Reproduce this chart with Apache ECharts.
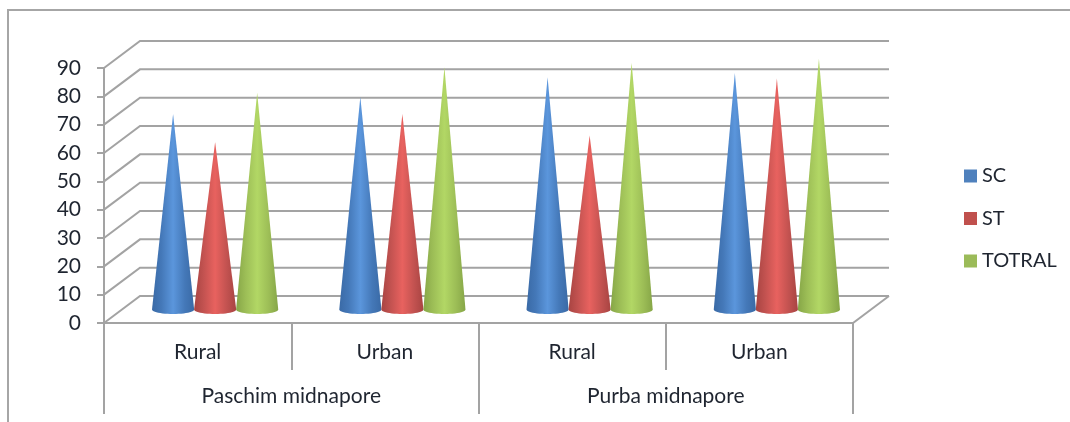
<!DOCTYPE html>
<html><head><meta charset="utf-8">
<script src="https://cdn.jsdelivr.net/npm/echarts@6/dist/echarts.min.js"></script>
<style>html,body{margin:0;padding:0;background:#fff}#c{width:1070px;height:422px}</style>
</head><body><div id="c"></div>
<script>
const categories = ['Rural','Urban','Rural','Urban'];
const groups = ['Paschim midnapore','Purba midnapore'];
const ticks = [0,10,20,30,40,50,60,70,80,90];
const SC = [69,75,82,83.5];
const ST = [59,69,61.5,81.5];
const TOTRAL = [76.5,85.5,87,88.5];

const DX = 36, DY = -27;
const seriesColors = {
  SC: {swatch:'#4f81bd', edge:'#3a6aa6', mid:'#5b96dc', dark:'#4478b8'},
  ST: {swatch:'#c0504d', edge:'#a84442', mid:'#e8625f', dark:'#c25250'},
  TOTRAL: {swatch:'#9bbb59', edge:'#86a647', mid:'#b2d765', dark:'#9cbd56'}
};
const LINE = '#a3a3a3';

function wallItem(params, api){
  const v = api.value(1);
  const cs = params.coordSys;
  const y = api.coord([0, v])[1];
  const x0 = cs.x, x1 = cs.x + cs.width;
  const style = {stroke: LINE, lineWidth: 2, fill: null};
  const children = [{type:'polyline', shape:{points:[[x0,y],[x0+DX,y+DY],[x1+DX,y+DY]]}, style}];
  if (v === 0) {
    children.push({type:'polyline', shape:{points:[[x0,y],[x1,y],[x1+DX,y+DY]]}, style});
  }
  return {type:'group', children};
}

function coneRenderer(key, slot){
  const c = seriesColors[key];
  return function(params, api){
    const i = api.value(0), v = api.value(1);
    const band = api.size([1,0])[0];
    const p0 = api.coord([i,0]), p1 = api.coord([i,v]);
    const cx = p0[0] + DX/2 - 0.5 + slot*band*0.2245;
    const y0 = p0[1] + DY/2, yt = p1[1] + DY/2;
    const rx = band*0.1125, ry = 4.5;
    const pts = [[cx, yt]];
    for (let k = 0; k <= 24; k++) {
      const a = Math.PI * k / 24;
      pts.push([cx + rx*Math.cos(a), y0 + ry*Math.sin(a)]);
    }
    return {type:'polygon', shape:{points:pts}, style:{
      fill:{type:'linear',x:0,y:0,x2:1,y2:0,colorStops:[
        {offset:0,color:c.edge},{offset:0.22,color:c.dark},{offset:0.5,color:c.mid},{offset:0.78,color:c.dark},{offset:1,color:c.edge}
      ]}
    }};
  };
}
function coneSeries(name, values, slot){
  return {name, type:'custom', xAxisIndex:0, yAxisIndex:0, z:5,
    itemStyle:{color:seriesColors[name].swatch},
    renderItem:coneRenderer(name, slot),
    data:values.map((v,i)=>[i,v])};
}
const FONT = 'Lato, "Open Sans", sans-serif';
const TEXT = '#1f2530';
const chart = echarts.init(document.getElementById('c'), null, {renderer:'canvas'});
chart.setOption({
  animation:false,
  backgroundColor:'#fff',
  graphic:[{type:'polyline', silent:true, shape:{points:[[8,422],[8,10],[1070,10]]}, style:{stroke:'#a6a6a6',lineWidth:2,fill:null}}],
  legend:{orient:'vertical', left:964, top:166, padding:0, itemWidth:13, itemHeight:13, itemGap:22.5, icon:'rect',
    data:['SC','ST','TOTRAL'], textStyle:{fontFamily:FONT,fontSize:20,color:TEXT}},
  grid:{left:104,right:217,top:68,bottom:99,containLabel:false},
  xAxis:[
    {type:'category',data:categories,position:'bottom',
     axisLine:{lineStyle:{color:LINE,width:2}},
     axisTick:{show:true,length:47,inside:false,lineStyle:{color:LINE,width:2}},
     axisLabel:{margin:19,fontFamily:FONT,fontSize:21,color:TEXT}},
    {type:'category',data:groups,position:'bottom',
     axisLine:{show:false},
     axisTick:{show:true,length:91,lineStyle:{color:LINE,width:2}},
     axisLabel:{margin:63,fontFamily:FONT,fontSize:21,color:TEXT}}
  ],
  yAxis:{type:'value',min:0,max:90,interval:10,
    axisLine:{show:true,lineStyle:{color:LINE,width:2}},
    axisTick:{show:true,length:7,lineStyle:{color:LINE,width:2}},
    splitLine:{show:false},
    axisLabel:{margin:23,fontFamily:FONT,fontSize:21,color:TEXT}},
  series:[
    {name:'walls',type:'custom',xAxisIndex:0,yAxisIndex:0,z:1,renderItem:wallItem,data:ticks.map(t=>[0,t])},
    coneSeries('SC',SC,-1),
    coneSeries('ST',ST,0),
    coneSeries('TOTRAL',TOTRAL,1)
  ]
});
</script></body></html>
